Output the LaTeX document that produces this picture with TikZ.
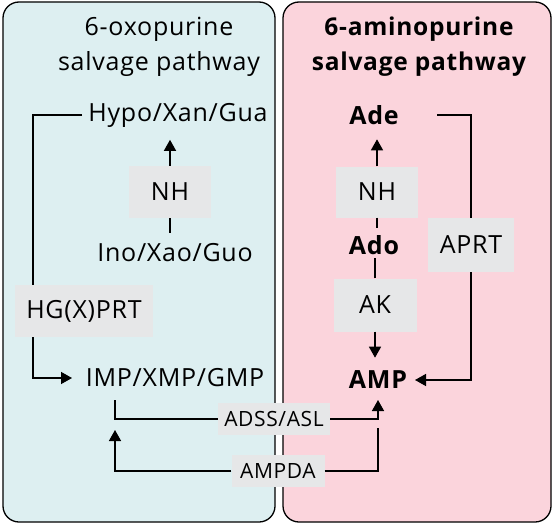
\documentclass[tikz,border=0pt]{standalone}
\usepackage{fontspec}
\setmainfont{Open Sans}[LetterSpace=3]
\usetikzlibrary{arrows.meta}
\definecolor{leftbg}{HTML}{DDEFF1}
\definecolor{rightbg}{HTML}{FBD4DC}
\definecolor{enz}{HTML}{E6E7E8}
\begin{document}
\begin{tikzpicture}[x=1pt,y=-1pt,
  panel/.style={draw=black, line width=1.3pt, rounded corners=16pt},
  met/.style={font=\fontsize{25}{28}\selectfont, inner sep=3pt},
  metb/.style={font=\fontsize{25}{28}\selectfont\bfseries, inner sep=3pt},
  title/.style={font=\fontsize{25}{35}\selectfont, align=center, inner sep=0pt},
  enzbox/.style={fill=enz, font=\fontsize{25}{28}\selectfont, inner sep=0pt},
  enzsmall/.style={fill=enz, font=\fontsize{21}{24}\selectfont, inner sep=0pt},
  conn/.style={line width=1.4pt},
  arr/.style={conn, -{Triangle[length=11pt,width=12pt]}},
  ]
\useasboundingbox (0,0) rectangle (554,527);
% panels
\path[panel, fill=leftbg] (3,2) rectangle (275,522);
\path[panel, fill=rightbg] (283,2) rectangle (551,522);
% titles
\node[title] (t1) at (159,47) {6-oxopurine\\salvage pathway};
\node[title, font=\fontsize{24.5}{35}\selectfont\bfseries] (t2) at (419,47) {6-aminopurine\\salvage pathway};
% metabolites
\node[met] (hypo) at (178,115) {Hypo/Xan/Gua};
\node[met] (ino) at (175,253) {Ino/Xao/Guo};
\node[met] (imp) at (175,378) {IMP/XMP/GMP};
\node[metb] (ade) at (374,115) {Ade};
\node[metb] (ado) at (374,245) {Ado};
\node[metb] (amp) at (378,380) {AMP};
% enzymes
\node[enzbox, minimum width=82pt, minimum height=52pt] (nh1) at (170,192) {NH};
\node[enzbox, minimum width=138pt, minimum height=52pt] (hgx) at (84,311) {HG(X)PRT};
\node[enzbox, minimum width=82pt, minimum height=51pt] (nh2) at (377,192) {NH};
\node[enzbox, minimum width=86pt, minimum height=54pt] (aprt) at (471,245) {APRT};
\node[enzbox, minimum width=83pt, minimum height=53pt] (ak) at (375,305) {AK};
\node[enzsmall, minimum width=112pt, minimum height=32pt] (adss) at (274,419) {ADSS/ASL};
\node[enzsmall, minimum width=93pt, minimum height=32pt] (ampda) at (278,471) {AMPDA};
% helper coordinates
\coordinate (hl) at (33,115);
\coordinate (hypoL) at (82,115);
\coordinate (impL) at (72,378);
\coordinate (adeR) at (437,115);
\coordinate (ampR) at (415,380);
\coordinate (impB) at (115,400);
\coordinate (ampB) at (378,400);
\coordinate (impA) at (115,430);
\coordinate (ampA) at (378,428);
% connectors left
\draw[conn] (hypoL) -| (hgx.north -| hl);
\draw[arr] (hgx.south -| hl) |- (impL);
\draw[arr] (nh1.north) -- ++(0,-26);
\draw[conn] (nh1.south) -- ++(0,15);
% connectors right
\draw[conn] (adeR) -| (aprt.north);
\draw[arr] (aprt.south) |- (ampR);
\draw[arr] (nh2.north) -- ++(0,-27);
\draw[conn] (nh2.south) -- ++(0,10);
\draw[conn] (ak.north) -- ++(0,-20);
\draw[arr] (ak.south) -- ++(0,26);
% cross-pathway
\draw[conn] (impB) |- (adss.west);
\draw[arr] (adss.east) -| (ampB);
\draw[arr] (ampda.west) -| (impA);
\draw[conn] (ampda.east) -| (ampA);
\end{tikzpicture}
\end{document}
